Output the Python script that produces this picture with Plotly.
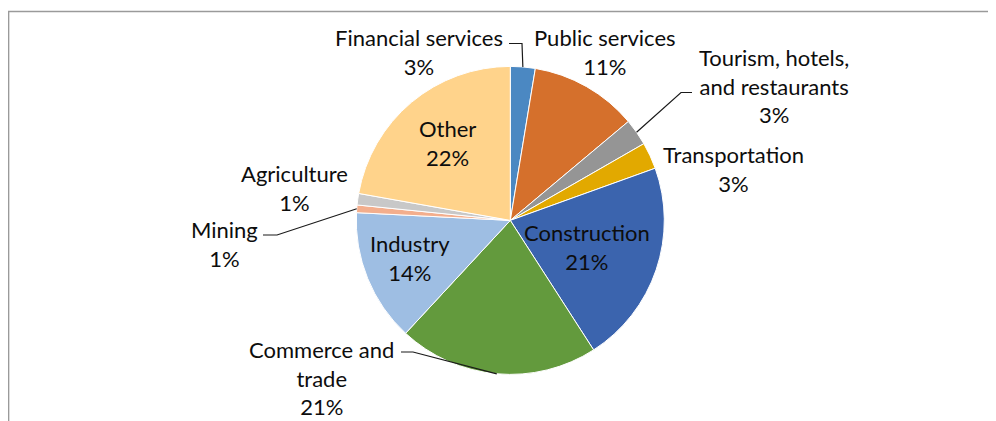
import plotly.graph_objects as go
import math

# ---- data ----
categories = ["Financial services", "Public services", "Tourism, hotels, and restaurants",
              "Transportation", "Construction", "Commerce and trade", "Industry",
              "Mining", "Agriculture", "Other"]
values = [2.6, 11.3, 2.8, 2.8, 21.4, 21.0, 13.9, 0.8, 1.2, 22.2]
label_lines = [["Financial services"], ["Public services"], ["Tourism, hotels,", "and restaurants"],
               ["Transportation"], ["Construction"], ["Commerce and", "trade"], ["Industry"],
               ["Mining"], ["Agriculture"], ["Other"]]

# ---- style ----
colors = ["#4B88C2", "#D5702C", "#959595", "#E2A900", "#3B64AE",
          "#639A3D", "#9EBEE3", "#F3AE8D", "#C8C8C8", "#FFD38B"]
W, H = 996, 421
OFF = 8  # page body margin in the browser
CX, CY, R = 510.3, 220.4, 154.0
FONT = "Lato, 'Open Sans', sans-serif"
FSIZE = 22
TXT = "#0d0d0d"

# label block centers (screen pixels) and leader elbow points (screen pixels)
label_pos = [(419, 52), (605, 52), (774, 85.5), (733, 169), (587, 246.5),
             (321, 377.5), (410, 257.5), (224, 244), (294, 187.5), (447, 142.5)]
leaders = {0: [(509, 43.5), (522, 43.5)],
           2: [(692, 92.5), (681, 92.5)],
           5: [(401, 352), (413, 352)],
           7: [(263, 235), (277, 235)]}

def px(x):
    return (x - OFF) / W

def py(y):
    return 1 - (y - OFF) / H

fig = go.Figure(go.Pie(
    labels=categories, values=values, sort=False, direction="clockwise", rotation=0,
    marker=dict(colors=colors, line=dict(color="white", width=1)),
    textinfo="none", hoverinfo="label+percent",
    domain=dict(x=[px(CX - R), px(CX + R)], y=[py(CY + R), py(CY - R)]),
    showlegend=False,
))

total = sum(values)
annotations = []
shapes = []
cum = 0.0
for i, v in enumerate(values):
    pct = f"{round(v / total * 100)}%"
    text = "<br>".join(label_lines[i] + [pct])
    lx, ly = label_pos[i]
    annotations.append(dict(x=px(lx), y=py(ly), xref="paper", yref="paper", text=text,
                            showarrow=False, xanchor="center", yanchor="middle", align="center",
                            font=dict(family=FONT, size=FSIZE, color=TXT)))
    mid = (cum + v / 2) / total * 2 * math.pi
    ex, ey = CX + R * math.sin(mid), CY - R * math.cos(mid)
    if i in leaders:
        pts = leaders[i] + [(ex, ey)]
        path = "M " + " L ".join(f"{px(a)},{py(b)}" for a, b in pts)
        shapes.append(dict(type="path", path=path, xref="paper", yref="paper",
                           line=dict(color="#1a1a1a", width=1.2)))
    cum += v

# chart frame (top and left visible)
shapes.append(dict(type="rect", xref="paper", yref="paper",
                   x0=px(8.6), x1=px(1020), y0=py(11.5), y1=py(450),
                   line=dict(color="#9a9a9a", width=1.5), fillcolor="rgba(0,0,0,0)"))

fig.update_layout(width=W, height=H, margin=dict(l=0, r=0, t=0, b=0),
                  paper_bgcolor="white", plot_bgcolor="white",
                  annotations=annotations, shapes=shapes)

fig.write_html("out.html", config={"displayModeBar": False})
